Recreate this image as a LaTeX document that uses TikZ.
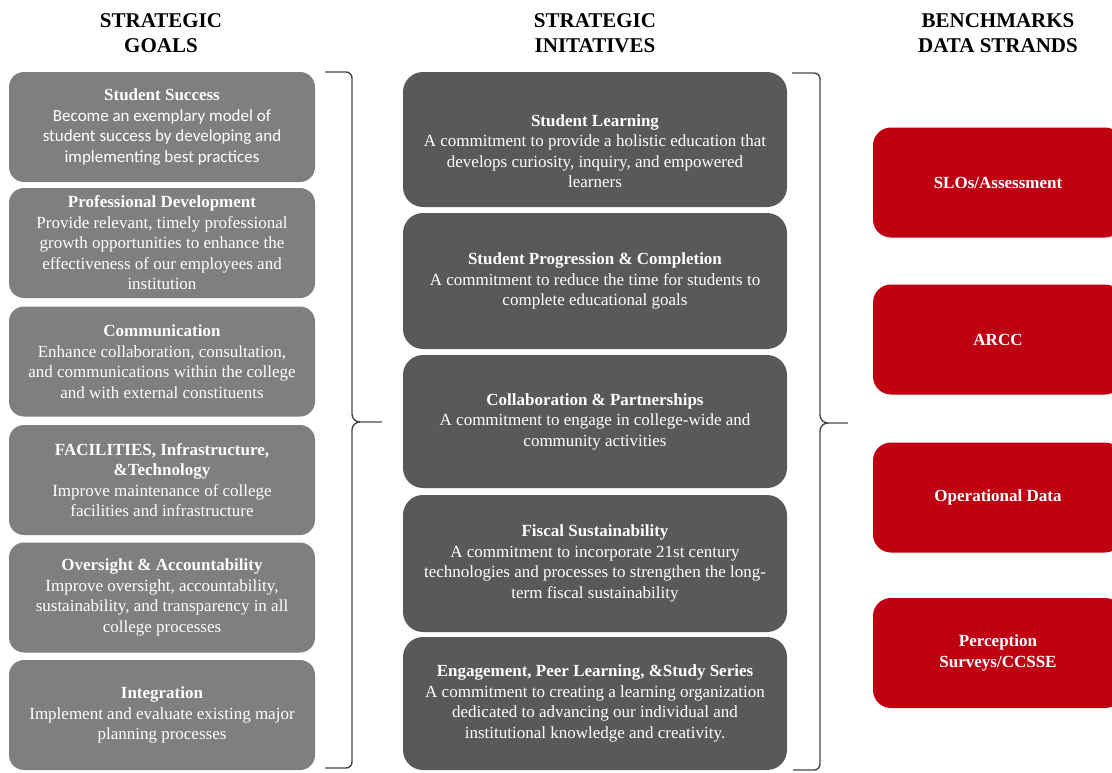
\documentclass[tikz,border=0pt]{standalone}
\usepackage{fontspec}
\setmainfont{Liberation Serif}
\newfontfamily\calibri{Carlito}
\definecolor{goalgray}{RGB}{127,127,127}
\definecolor{initgray}{RGB}{89,89,89}
\definecolor{benchred}{RGB}{190,0,18}
\definecolor{bracegray}{RGB}{72,72,72}
\begin{document}
\begin{tikzpicture}[x=1pt,y=-1pt,
  boxtext/.style={text=white, inner sep=0pt, align=center,
    font=\fontsize{17}{20.5}\selectfont},
  goal/.style={boxtext, rectangle, rounded corners=15pt, fill=goalgray,
    minimum width=306pt, minimum height=110pt},
  initiative/.style={boxtext, rectangle, rounded corners=20pt, fill=initgray,
    minimum width=384pt},
  bench/.style={boxtext, rectangle, rounded corners=18pt, fill=benchred,
    minimum width=250pt, minimum height=110pt, font=\fontsize{17}{21}\selectfont\bfseries},
  head/.style={anchor=base, inner sep=0pt, font=\fontsize{21}{25}\selectfont\bfseries},
  bracket/.style={draw=bracegray, line width=1.4pt}
]
\useasboundingbox (0,0) rectangle (1112,772);
\clip (0,0) rectangle (1112,772);

% column headings
\node[head] (h1a) at (161,27) {STRATEGIC};
\node[head] (h1b) at (161,52) {GOALS};
\node[head] (h2a) at (595,27) {STRATEGIC};
\node[head] (h2b) at (595,52) {INITATIVES};
\node[head] (h3a) at (998,27) {BENCHMARKS};
\node[head] (h3b) at (998,52) {DATA STRANDS};

% strategic goals
\node[goal] (g1) at (162,127) {\textbf{Student Success}\\
  {\calibri Become an exemplary model of}\\
  {\calibri student success by developing and}\\
  {\calibri implementing best practices}};
\node[goal] (g2) at (162,243) {\textbf{Professional Development}\\
  Provide relevant, timely professional\\
  growth opportunities to enhance the\\
  effectiveness of our employees and\\
  institution};
\node[goal] (g3) at (162,361.5) {\textbf{Communication}\\
  Enhance collaboration, consultation,\\
  and communications within the college\\
  and with external constituents};
\node[goal] (g4) at (162,480) {\textbf{FACILITIES, Infrastructure,}\\
  \textbf{\&Technology}\\
  Improve maintenance of college\\
  facilities and infrastructure};
\node[goal] (g5) at (162,597.5) {\textbf{Oversight \& Accountability}\\
  Improve oversight, accountability,\\
  sustainability, and transparency in all\\
  college processes};
\node[goal] (g6) at (162,715) {\textbf{Integration}\\
  Implement and evaluate existing major\\
  planning processes};

% strategic initiatives
\node[initiative, minimum height=135pt] (i1) at (595,139.5) {};
\node[boxtext] (i1text) at (595,151) {\textbf{Student Learning}\\
  A commitment to provide a holistic education that\\
  develops curiosity, inquiry, and empowered\\
  learners};
\node[initiative, minimum height=136pt] (i2) at (595,281) {\textbf{Student Progression \& Completion}\\
  A commitment to reduce the time for students to\\
  complete educational goals};
\node[initiative, minimum height=133pt] (i3) at (595,421.5) {\textbf{Collaboration \& Partnerships}\\
  A commitment to engage in college-wide and\\
  community activities};
\node[initiative, minimum height=137pt] (i4) at (595,563.5) {\textbf{Fiscal Sustainability}\\
  A commitment to incorporate 21st century\\
  technologies and processes to strengthen the long-\\
  term fiscal sustainability};
\node[initiative, minimum height=133pt] (i5) at (595,703.5) {\textbf{Engagement, Peer Learning, \&Study Series}\\
  A commitment to creating a learning organization\\
  dedicated to advancing our individual and\\
  institutional knowledge and creativity.};

% benchmark data strands
\node[bench] (b1) at (998,182.5) {SLOs/Assessment};
\node[bench] (b2) at (998,339.5) {ARCC};
\node[bench] (b3) at (998,497.5) {Operational Data};
\node[bench] (b4) at (998,653) {Perception\\Surveys/CCSSE};

% brace gathering the goals
\coordinate (lt) at (325,72);
\coordinate (lb) at (325,768);
\coordinate (ltip) at (382,422);
\draw[bracket] (lt) -- (346,72) to[out=0,in=90] (352,78) -- (352,414)
  to[out=-90,in=180] (360,422) -- (ltip);
\draw[bracket] (lb) -- (346,768) to[out=0,in=-90] (352,762) -- (352,430)
  to[out=90,in=180] (360,422);

% brace gathering the initiatives
\coordinate (rt) at (792,73);
\coordinate (rb) at (793,770);
\coordinate (rtip) at (848,423);
\draw[bracket] (rt) -- (814,73) to[out=0,in=90] (820,79) -- (820,415)
  to[out=-90,in=180] (828,423) -- (rtip);
\draw[bracket] (rb) -- (814,770) to[out=0,in=-90] (820,764) -- (820,431)
  to[out=90,in=180] (828,423);
\end{tikzpicture}
\end{document}
